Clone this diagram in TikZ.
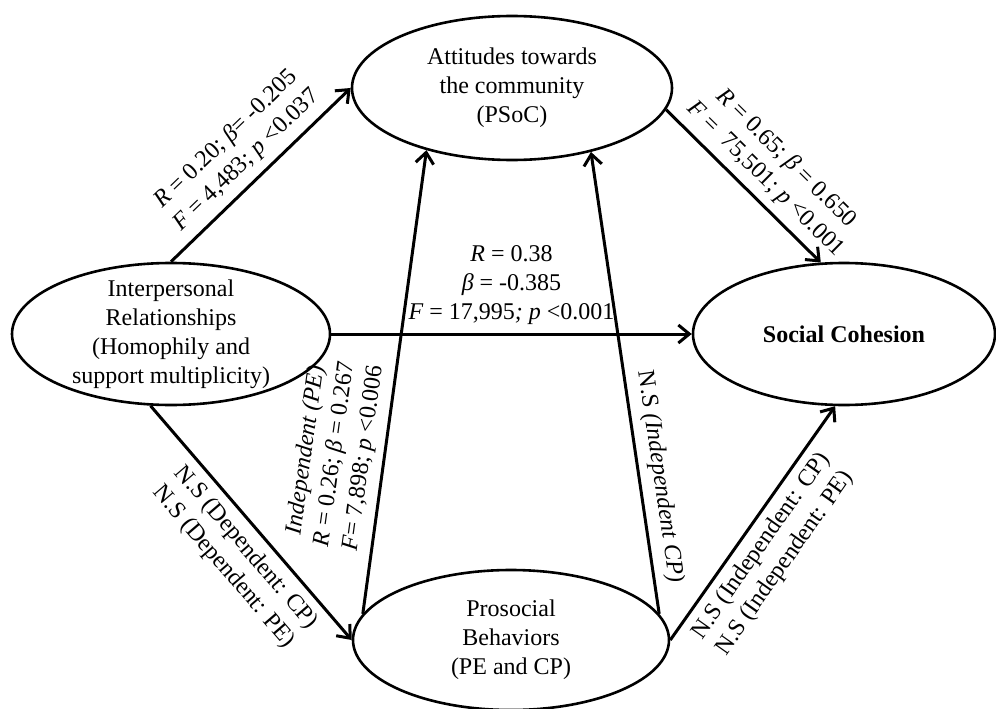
\documentclass[tikz,border=0pt]{standalone}
\usepackage{fontspec}
\setmainfont{Liberation Serif}
\usetikzlibrary{shapes.geometric,arrows.meta}
\begin{document}
\begin{tikzpicture}[x=1pt,y=-1pt,
  every node/.style={font=\fontsize{24}{29}\selectfont},
  var/.style={ellipse, draw, line width=2.6pt, inner sep=0pt},
  conn/.style={line width=3pt, -{Straight Barb[length=11pt,width=18pt]}},
  lab/.style={sloped, align=center, inner sep=8pt}
]
\useasboundingbox (0,0) rectangle (996,709);
\node[var, minimum width=320pt, minimum height=144pt,
  label={[align=center, name=Tt]center:Attitudes towards\\the community\\(PSoC)}] (T) at (512,88) {};
\node[var, minimum width=318pt, minimum height=142pt,
  label={[align=center, name=Lt]center:Interpersonal\\Relationships\\(Homophily and\\support multiplicity)}] (L) at (171,334) {};
\node[var, minimum width=302pt, minimum height=142pt,
  label={[name=St]center:\textbf{Social Cohesion}}] (S) at (844,334) {};
\node[var, minimum width=316pt, minimum height=140pt,
  label={[align=center, name=Bt]center:Prosocial\\Behaviors\\(PE and CP)}] (B) at (511,640) {};

\draw[conn] (L.north) -- node[lab, above] (l1)
  {\textit{R} = 0.20; \textit{β}= -0.205\\\textit{F} = 4,483; \textit{p} <0.037} (T.west);
\draw[conn] (T.-8) -- node[lab, above, pos=0.55] (l2)
  {\textit{R} = 0.65; \textit{β} = 0.650\\\textit{F} = \ 75,501; \textit{p} <0.001} (S.108);
\draw[conn] (L.east) -- node[above, align=center, inner sep=8pt] (l3)
  {\textit{R} = 0.38\\\textit{β} = -0.385\\\textit{F} = 17,995\textit{;} \textit{p} <0.001} (S.west);
\draw[conn] (L.-106) -- node[lab, below, pos=0.55] (l4)
  {N.S (Dependent: CP)\\N.S (Dependent: PE)} (B.west);
\draw[conn] (B.170) -- node[lab, above, pos=0.33] (l5)
  {\textit{Independent (PE)}\\\textit{R} = 0.26; \textit{β} = 0.267\\\textit{F}= 7,898; \textit{p} <0.006} (T.216);
\draw[conn] (B.10) -- node[lab, above, pos=0.29] (l6)
  {N.S \textit{(Independent CP)}} (T.-39);
\draw[conn] (B.east) -- node[lab, below, pos=0.45] (l7)
  {N.S (Independent: CP)\\N.S (Independent: PE)} (S.-97);
\end{tikzpicture}
\end{document}
